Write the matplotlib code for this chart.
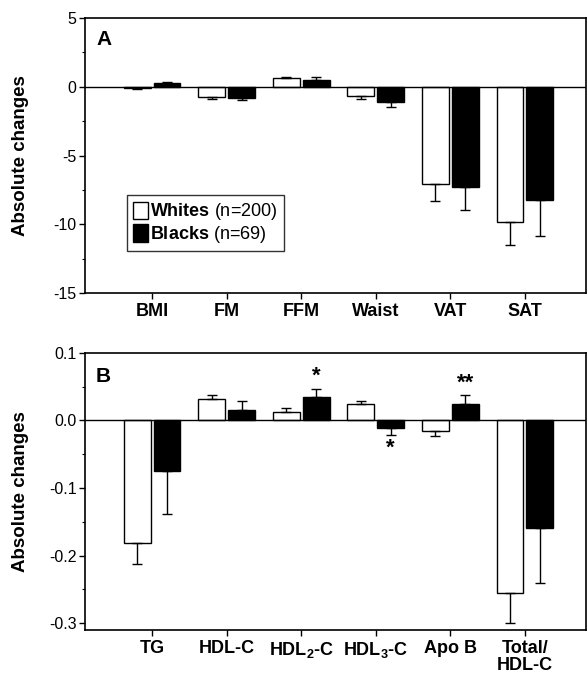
import matplotlib
matplotlib.use("Agg")
import matplotlib.pyplot as plt
import numpy as np
from matplotlib.ticker import FuncFormatter, MultipleLocator
from matplotlib.patches import Patch

plt.rcParams['font.family'] = ['Liberation Sans', 'DejaVu Sans']
plt.rcParams['mathtext.fontset'] = 'custom'
plt.rcParams['mathtext.rm'] = 'Liberation Sans'
plt.rcParams['mathtext.bf'] = 'Liberation Sans:bold'
plt.rcParams['mathtext.it'] = 'Liberation Sans:italic'

# Panel A data
cats_a = ['BMI', 'FM', 'FFM', 'Waist', 'VAT', 'SAT']
whites_a = [-0.12, -0.73, 0.65, -0.68, -7.04, -9.85]
whites_a_err = [0.05, 0.17, 0.08, 0.19, 1.29, 1.63]
blacks_a = [0.25, -0.80, 0.49, -1.09, -7.28, -8.25]
blacks_a_err = [0.08, 0.17, 0.19, 0.37, 1.65, 2.58]

# Panel B data
cats_b = ['TG', 'HDL-C', r'HDL$_\mathbf{2}$-C', r'HDL$_\mathbf{3}$-C', 'Apo B', 'Total/\nHDL-C']
whites_b = [-0.181, 0.031, 0.013, 0.024, -0.016, -0.256]
whites_b_err = [0.032, 0.006, 0.005, 0.005, 0.007, 0.043]
blacks_b = [-0.075, 0.016, 0.035, -0.012, 0.024, -0.159]
blacks_b_err = [0.064, 0.012, 0.011, 0.010, 0.013, 0.082]
stars_b = ['', '', '*', '*', '**', '']

legend_labels = [r'$\mathbf{Whites}$ (n=200)', r'$\mathbf{Blacks}$ (n=69)']

fig = plt.figure(figsize=(5.88, 6.77), dpi=100)
axA = fig.add_axes([85/588, 1-293/677, 501/588, 275/677])
axB = fig.add_axes([85/588, 1-630/677, 501/588, 277.3/677])

W = 0.36
OFF = 0.20

def fmt(dec):
    def f(v, p):
        s = f"{v:.{dec}f}"
        if s.startswith('-') and float(s) == 0:
            s = s[1:]
        return s
    return FuncFormatter(f)

def draw(ax, cats, wv, we, bv, be):
    x = np.arange(len(cats))
    ax.bar(x - OFF, wv, W, color='white', edgecolor='black', linewidth=1.0, zorder=2)
    ax.bar(x + OFF, bv, W, color='black', edgecolor='black', linewidth=1.0, zorder=2)
    for xs, v, e in ((x - OFF, wv, we), (x + OFF, bv, be)):
        v = np.array(v); e = np.array(e)
        lower = np.where(v < 0, e, 0)
        upper = np.where(v >= 0, e, 0)
        ax.errorbar(xs, v, yerr=[lower, upper], fmt='none', ecolor='black',
                    elinewidth=1.0, capsize=3.5, capthick=1.0, zorder=3)
    ax.axhline(0, color='black', linewidth=1.0, zorder=4)
    ax.set_xlim(-0.9, 5.82)
    ax.set_xticks(x)
    ax.set_xticklabels(cats, fontsize=13, fontweight='bold', linespacing=1.0)
    for s in ax.spines.values():
        s.set_linewidth(1.2)
    ax.tick_params(axis='y', direction='out', length=4, width=1, labelsize=11.5, pad=2)
    ax.tick_params(axis='y', which='minor', direction='out', length=2, width=0.8)
    ax.tick_params(axis='x', direction='out', length=4, width=1, pad=3)
    ax.set_ylabel('Absolute changes', fontsize=13.5, fontweight='bold')
    ax.yaxis.set_label_coords(-0.112, 0.5)
    return x

xa = draw(axA, cats_a, whites_a, whites_a_err, blacks_a, blacks_a_err)
axA.set_ylim(-15, 5)
axA.yaxis.set_major_locator(MultipleLocator(5))
axA.yaxis.set_minor_locator(MultipleLocator(2.5))
axA.yaxis.set_major_formatter(fmt(0))
axA.text(0.022, 0.955, 'A', transform=axA.transAxes, fontsize=15, fontweight='bold', va='top', ha='left')

handles = [Patch(facecolor='white', edgecolor='black', linewidth=1.0),
           Patch(facecolor='black', edgecolor='black', linewidth=1.0)]
leg = axA.legend(handles, legend_labels, loc='upper left', bbox_to_anchor=(42/501, (293-195)/275),
                 fontsize=13, frameon=True, fancybox=False, edgecolor='black',
                 handlelength=0.8, handleheight=1.1, handletextpad=0.15, borderpad=0.35,
                 labelspacing=0.1, borderaxespad=0)
leg.get_frame().set_linewidth(1.0)

xb = draw(axB, cats_b, whites_b, whites_b_err, blacks_b, blacks_b_err)
axB.set_ylim(-0.31, 0.1)
axB.yaxis.set_major_locator(MultipleLocator(0.1))
axB.yaxis.set_minor_locator(MultipleLocator(0.05))
axB.yaxis.set_major_formatter(fmt(1))
axB.text(0.022, 0.95, 'B', transform=axB.transAxes, fontsize=15, fontweight='bold', va='top', ha='left')

for i, s in enumerate(stars_b):
    if not s:
        continue
    v = blacks_b[i]; e = blacks_b_err[i]
    if v >= 0:
        axB.text(xb[i] + OFF, v + e + 0.003, s, ha='center', va='bottom', fontsize=16, fontweight='bold')
    else:
        axB.text(xb[i] + OFF, v - e - 0.004, s, ha='center', va='top', fontsize=16, fontweight='bold')

fig.savefig('out.png', dpi=100)
